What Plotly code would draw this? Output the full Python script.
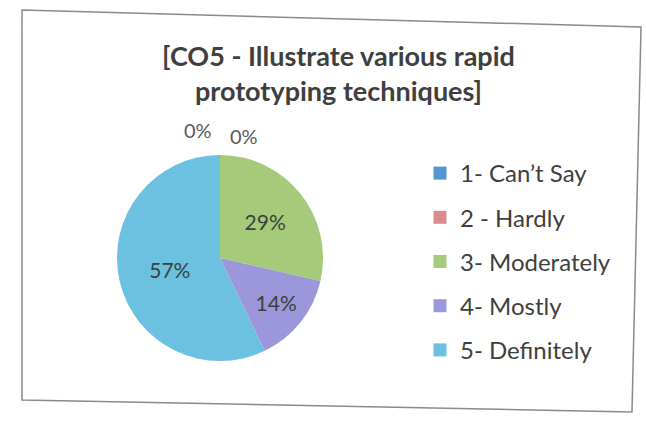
import plotly.graph_objects as go

labels = ["1- Can\u2019t Say", "2 - Hardly", "3- Moderately", "4- Mostly", "5- Definitely"]
values = [0, 0, 2, 1, 4]
colors = ["#5596D2", "#D98A8A", "#A5CB7A", "#9C96DA", "#6BC1DF"]
title_text = "[CO5 - Illustrate various rapid<br>prototyping techniques]"

W, H = 646, 421
FONT = "Lato"
TXT = "#3f3f3f"

def px(x):
    return x / W

def py(y):
    return 1 - y / H

total = sum(values)
templates = ["" if v == 0 else "%{percent:.0%}" for v in values]

fig = go.Figure()
fig.add_trace(go.Pie(
    labels=labels, values=values, sort=False, direction="clockwise", rotation=0,
    marker=dict(colors=colors, line=dict(width=0)),
    texttemplate=templates, textposition="inside",
    insidetextorientation="horizontal",
    insidetextfont=dict(family=FONT, size=21, color=TXT),
    domain=dict(x=[px(117), px(323)], y=[py(361), py(155)]),
    showlegend=False, hoverinfo="label+percent",
))

# legend entries
for lab, col in zip(labels, colors):
    fig.add_trace(go.Scatter(
        x=[None], y=[None], mode="markers", name=lab, legendgroup=lab,
        marker=dict(symbol="square", size=13, color=col),
    ))

# zero-value labels above the pie
zero_pos = [(198, 130), (244, 136)]
zi = 0
for v in values:
    if v == 0 and zi < len(zero_pos):
        fig.add_annotation(x=px(zero_pos[zi][0]), y=py(zero_pos[zi][1]), xref="paper", yref="paper",
                           xanchor="center", yanchor="middle",
                           text=f"{v/total:.0%}", showarrow=False,
                           font=dict(family=FONT, size=20, color="#5a5a5a"))
        zi += 1

# chart border (slightly skewed scan)
corners = [(22, 10), (641, 27), (632, 412), (22, 400)]
path = "M " + " L ".join(f"{px(x):.4f},{py(y):.4f}" for x, y in corners) + " Z"
fig.add_shape(type="path", path=path, xref="paper", yref="paper",
              line=dict(color="#8a8a8a", width=1.5))

fig.update_layout(
    width=W, height=H,
    margin=dict(l=0, r=0, t=0, b=0),
    paper_bgcolor="white", plot_bgcolor="white",
    title=dict(text=title_text, x=0.524, xanchor="center", y=py(66), yanchor="top",
               font=dict(family=FONT, size=27, color=TXT, weight="bold")),
    xaxis=dict(visible=False), yaxis=dict(visible=False),
    showlegend=True,
    legend=dict(x=px(420), y=py(151), xanchor="left", yanchor="top",
                font=dict(family=FONT, size=24, color=TXT),
                tracegroupgap=10, bgcolor="rgba(0,0,0,0)"),
)

fig.write_html("out.html", config={"displayModeBar": False},
               post_script="document.body.style.margin='0';")
